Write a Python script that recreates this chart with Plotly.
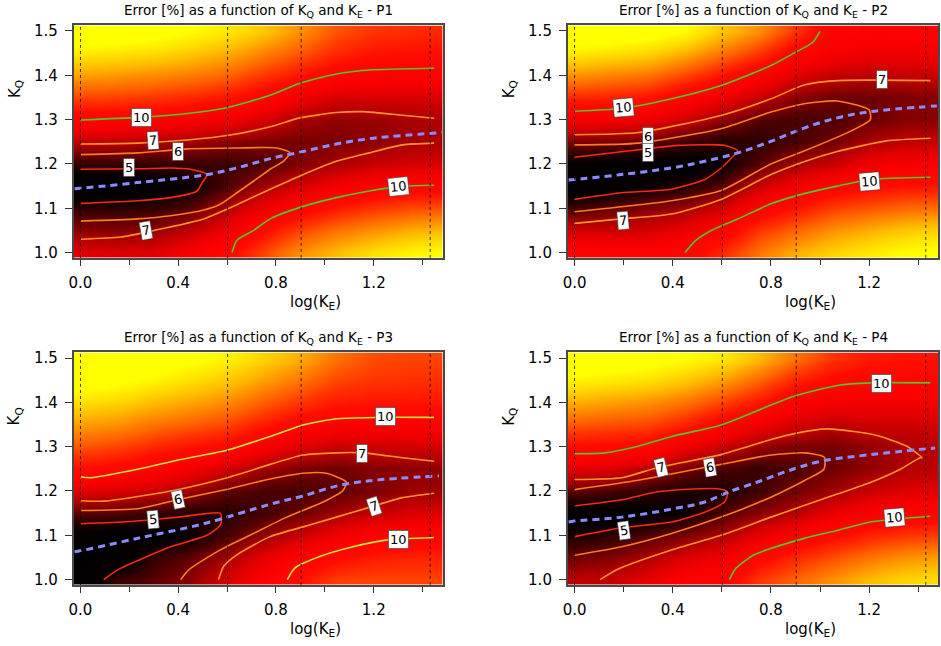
import numpy as np
import plotly.graph_objects as go
from plotly.subplots import make_subplots

# ============================================================================
# DATA
# ============================================================================

# calculation grid
LOG_KE = [0.0, 0.15, 0.30, 0.45, 0.60, 0.75, 0.90, 1.05, 1.20, 1.35, 1.50]
K_Q = [1.00, 1.05, 1.10, 1.15, 1.20, 1.25, 1.30, 1.35, 1.40, 1.45, 1.50]

# error [%] : one list per log(KE) column, KQ from 1.0 to 1.5
ERR_P1 = [
    [8.0, 6.5, 5.3, 3.5, 5.3, 7.3, 10.0, 13.0, 16.0, 19.0, 22.0],
    [7.9, 6.4, 5.2, 3.7, 5.3, 7.2, 9.9, 12.8, 15.7, 18.7, 21.5],
    [8.0, 6.6, 5.3, 4.0, 5.3, 7.0, 9.7, 12.5, 15.3, 18.3, 21.0],
    [9.0, 7.3, 5.8, 4.6, 5.4, 6.8, 9.2, 12.0, 14.8, 17.5, 20.0],
    [10.3, 8.5, 7.0, 5.7, 5.4, 6.5, 8.7, 11.3, 14.0, 16.5, 19.0],
    [13.0, 10.8, 8.6, 6.8, 5.7, 6.3, 7.8, 10.0, 12.5, 15.0, 17.5],
    [15.5, 13.0, 10.0, 7.8, 6.4, 6.2, 6.9, 8.6, 11.2, 13.5, 15.5],
    [17.0, 14.5, 11.5, 8.8, 6.9, 6.3, 6.6, 7.8, 10.0, 12.0, 13.5],
    [18.5, 15.5, 12.5, 9.5, 7.5, 6.5, 6.7, 7.8, 9.5, 11.2, 12.5],
    [19.5, 16.5, 13.2, 10.0, 7.8, 6.8, 6.9, 7.8, 9.4, 11.0, 12.2],
    [20.0, 17.0, 13.5, 10.0, 7.9, 7.0, 7.0, 7.9, 9.5, 11.0, 12.0],
]
ERR_P2 = [
    [9.8, 7.7, 5.6, 3.7, 4.4, 6.3, 9.0, 12.0, 15.5, 19.0, 22.0],
    [9.6, 7.6, 6.0, 4.0, 4.2, 6.2, 8.8, 11.8, 15.0, 18.5, 21.5],
    [9.5, 7.8, 6.4, 4.6, 4.0, 6.0, 8.4, 11.2, 14.5, 18.0, 21.0],
    [10.0, 8.4, 6.8, 5.0, 4.0, 5.5, 7.6, 9.8, 13.0, 16.5, 20.0],
    [12.0, 9.7, 7.7, 5.8, 4.6, 5.1, 6.6, 8.6, 11.2, 14.5, 17.5],
    [14.5, 12.5, 9.7, 7.5, 5.8, 5.2, 5.8, 7.4, 9.5, 12.5, 15.5],
    [16.5, 14.0, 11.3, 8.8, 6.9, 5.6, 5.6, 6.5, 8.0, 9.9, 12.5],
    [18.0, 15.5, 12.8, 9.9, 7.5, 6.1, 5.7, 6.1, 7.4, 8.9, 9.9],
    [19.0, 16.5, 13.5, 10.8, 8.6, 6.9, 6.05, 6.1, 7.2, 8.5, 9.5],
    [20.0, 17.5, 14.2, 11.2, 9.0, 7.3, 6.4, 6.3, 7.4, 8.6, 9.5],
    [20.5, 18.0, 14.5, 11.3, 9.1, 7.4, 6.5, 6.4, 7.5, 8.7, 9.6],
]
ERR_P3 = [
    [3.6, 3.2, 4.2, 5.8, 8.0, 11.0, 13.5, 16.0, 18.5, 21.0, 23.0],
    [5.4, 3.6, 4.0, 5.7, 7.8, 10.5, 13.0, 15.5, 18.0, 20.5, 22.5],
    [5.8, 5.3, 4.1, 5.4, 7.5, 9.6, 12.0, 14.5, 17.0, 19.5, 21.5],
    [6.5, 5.9, 4.6, 5.0, 6.7, 8.8, 11.2, 13.8, 16.2, 18.5, 20.5],
    [7.8, 6.8, 5.6, 5.1, 5.9, 7.8, 10.5, 13.0, 15.3, 17.5, 19.5],
    [9.3, 8.2, 6.6, 5.5, 5.6, 6.8, 9.0, 11.5, 13.8, 16.0, 18.0],
    [11.2, 9.5, 7.6, 6.1, 5.6, 6.3, 8.0, 10.2, 12.5, 14.5, 16.5],
    [12.8, 10.7, 8.6, 6.8, 5.9, 6.1, 7.5, 9.4, 11.5, 13.0, 14.5],
    [13.0, 11.5, 9.5, 7.4, 6.3, 6.4, 7.6, 9.3, 11.3, 12.5, 13.2],
    [13.0, 11.8, 9.8, 7.9, 6.7, 6.5, 7.7, 9.3, 11.3, 12.3, 13.0],
    [13.0, 11.8, 10.0, 8.0, 6.8, 6.6, 7.8, 9.4, 11.4, 12.3, 13.0],
]
ERR_P4 = [
    [7.3, 6.1, 4.9, 4.0, 5.9, 8.2, 10.8, 13.6, 16.5, 19.5, 22.0],
    [7.4, 6.4, 5.2, 4.0, 5.6, 8.0, 10.6, 13.3, 16.0, 19.0, 21.5],
    [8.3, 7.0, 5.7, 4.2, 5.2, 7.1, 10.3, 13.0, 15.5, 18.5, 21.0],
    [9.3, 7.9, 6.3, 4.6, 4.9, 6.2, 8.6, 11.8, 14.5, 17.5, 20.0],
    [9.8, 8.6, 7.0, 5.7, 4.9, 5.7, 7.6, 10.0, 13.0, 16.0, 19.0],
    [12.5, 10.4, 8.2, 6.5, 5.5, 5.4, 6.7, 8.6, 11.3, 14.0, 17.0],
    [14.0, 12.0, 9.4, 7.2, 6.2, 5.7, 6.3, 7.8, 9.3, 11.8, 14.5],
    [15.5, 13.3, 10.6, 8.3, 6.8, 6.1, 6.2, 7.3, 8.8, 10.6, 12.5],
    [17.0, 14.5, 11.8, 9.2, 7.5, 6.6, 6.6, 7.6, 8.7, 10.2, 11.5],
    [18.0, 15.5, 12.5, 9.7, 8.0, 7.0, 6.95, 7.6, 8.7, 10.1, 11.2],
    [18.5, 16.0, 12.8, 9.9, 8.2, 7.3, 7.2, 7.8, 8.8, 10.1, 11.2],
]

# iso-error lines : (level, log(KE), KQ)
LINES_P1 = [
    (10, [0, 0.233, 0.437, 0.6, 0.776, 0.898, 1.047, 1.182, 1.447],
         [1.299, 1.305, 1.314, 1.327, 1.355, 1.382, 1.403, 1.412, 1.416]),
    (7, [0, 0.233, 0.437, 0.6, 0.776, 0.898, 1.047, 1.155, 1.318, 1.447],
        [1.245, 1.247, 1.254, 1.264, 1.284, 1.304, 1.316, 1.318, 1.31, 1.303]),
    (6, [0, 0.233, 0.437, 0.64, 0.803, 0.857, 0.83, 0.776, 0.708, 0.64, 0.572, 0.504, 0.369, 0.233, 0],
        [1.221, 1.225, 1.234, 1.236, 1.236, 1.225, 1.206, 1.188, 1.161, 1.135, 1.109, 1.096, 1.083, 1.076, 1.071]),
    (5, [0, 0.233, 0.369, 0.45, 0.518, 0.498, 0.477, 0.369, 0.233, 0],
        [1.188, 1.189, 1.191, 1.188, 1.176, 1.158, 1.139, 1.124, 1.117, 1.111]),
    (7, [0, 0.165, 0.301, 0.504, 0.6, 0.776, 0.898, 1.047, 1.182, 1.318, 1.447],
        [1.03, 1.035, 1.05, 1.076, 1.098, 1.143, 1.173, 1.206, 1.225, 1.243, 1.247]),
    (10, [0.62, 0.64, 0.708, 0.776, 0.898, 1.047, 1.182, 1.318, 1.447],
         [1.0, 1.028, 1.05, 1.076, 1.102, 1.124, 1.139, 1.15, 1.152]),
]
LINES_P2 = [
    (10, [0, 0.19, 0.395, 0.597, 0.8, 0.9, 0.97, 1.0],
         [1.319, 1.325, 1.347, 1.377, 1.422, 1.452, 1.474, 1.499]),
    (7, [0, 0.26, 0.6, 0.8, 0.935, 1.07, 1.45],
        [1.266, 1.271, 1.31, 1.347, 1.378, 1.388, 1.388]),
    (6, [0, 0.26, 0.6, 0.8, 0.935, 1.07, 1.2, 1.205, 1.125, 0.935, 0.8, 0.597, 0.395, 0],
        [1.243, 1.247, 1.28, 1.317, 1.336, 1.342, 1.322, 1.3, 1.274, 1.229, 1.2, 1.14, 1.117, 1.092]),
    (5, [0, 0.26, 0.42, 0.61, 0.665, 0.64, 0.6, 0.53, 0.395, 0.19, 0],
        [1.215, 1.232, 1.242, 1.242, 1.23, 1.214, 1.192, 1.165, 1.143, 1.135, 1.12]),
    (7, [0, 0.19, 0.395, 0.597, 0.8, 0.935, 1.07, 1.27, 1.45],
        [1.066, 1.076, 1.087, 1.12, 1.176, 1.205, 1.228, 1.252, 1.258]),
    (10, [0.45, 0.495, 0.557, 0.665, 0.8, 0.935, 1.07, 1.205, 1.45],
         [1.0, 1.028, 1.05, 1.076, 1.11, 1.133, 1.15, 1.165, 1.17]),
]
LINES_P3 = [
    (10, [0, 0.043, 0.233, 0.41, 0.6, 0.776, 0.911, 1.047, 1.21, 1.447],
         [1.232, 1.23, 1.249, 1.271, 1.292, 1.323, 1.349, 1.363, 1.366, 1.366]),
    (7, [0, 0.098, 0.369, 0.6, 0.776, 0.911, 1.047, 1.155, 1.318, 1.447],
        [1.178, 1.177, 1.2, 1.23, 1.26, 1.281, 1.286, 1.286, 1.275, 1.267]),
    (6, [0, 0.233, 0.396, 0.6, 0.776, 0.911, 1.006, 1.088, 1.074, 0.993, 0.844, 0.708, 0.572, 0.443, 0.41],
        [1.156, 1.16, 1.18, 1.204, 1.227, 1.24, 1.24, 1.22, 1.201, 1.175, 1.141, 1.104, 1.067, 1.022, 1.0]),
    (5, [0, 0.2, 0.4, 0.572, 0.577, 0.572, 0.518, 0.369, 0.152, 0.095],
        [1.126, 1.131, 1.141, 1.15, 1.137, 1.123, 1.10, 1.074, 1.022, 1.0]),
    (7, [0.565, 0.586, 0.64, 0.776, 0.911, 1.047, 1.182, 1.318, 1.447],
        [1.0, 1.03, 1.056, 1.097, 1.119, 1.141, 1.163, 1.185, 1.195]),
    (10, [0.846, 0.877, 0.979, 1.115, 1.25, 1.447],
         [1.0, 1.026, 1.052, 1.074, 1.089, 1.095]),
]
LINES_P4 = [
    (10, [0, 0.124, 0.259, 0.395, 0.597, 0.8, 0.9, 1.07, 1.205, 1.449],
         [1.284, 1.286, 1.301, 1.323, 1.349, 1.394, 1.415, 1.438, 1.444, 1.444]),
    (7, [0, 0.192, 0.34, 0.597, 0.8, 0.9, 1.03, 1.138, 1.232, 1.354, 1.416, 1.408, 1.327, 1.205,
         1.07, 0.935, 0.8, 0.597, 0.395, 0.178, 0.104],
        [1.226, 1.23, 1.253, 1.282, 1.316, 1.33, 1.34, 1.334, 1.325, 1.301, 1.275, 1.275, 1.249, 1.219,
         1.193, 1.167, 1.141, 1.1, 1.067, 1.024, 1.0]),
    (6, [0, 0.259, 0.53, 0.597, 0.8, 0.935, 1.003, 1.019, 1.016, 0.935, 0.8, 0.597, 0.395, 0.192, 0],
        [1.203, 1.224, 1.253, 1.26, 1.281, 1.286, 1.28, 1.275, 1.249, 1.223, 1.186, 1.141, 1.104, 1.074, 1.055]),
    (5, [0, 0.192, 0.327, 0.462, 0.597, 0.624, 0.611, 0.53, 0.395, 0.192, 0],
        [1.166, 1.18, 1.197, 1.204, 1.204, 1.197, 1.175, 1.152, 1.13, 1.117, 1.097]),
    (10, [0.631, 0.658, 0.732, 0.935, 1.07, 1.205, 1.449],
         [1.0, 1.026, 1.056, 1.093, 1.111, 1.13, 1.143]),
]

# optimal KQ (minimum error) : dashed blue line
OPT_P1 = ([-0.024, 0, 0.233, 0.504, 0.64, 0.776, 0.911, 1.047, 1.182, 1.318, 1.481],
          [1.144, 1.145, 1.158, 1.175, 1.191, 1.212, 1.228, 1.245, 1.257, 1.264, 1.271])
OPT_P2 = ([-0.024, 0, 0.19, 0.395, 0.53, 0.665, 0.8, 0.935, 1.07, 1.205, 1.476],
          [1.164, 1.165, 1.176, 1.191, 1.206, 1.225, 1.251, 1.281, 1.304, 1.318, 1.331])
OPT_P3 = ([-0.024, 0, 0.233, 0.504, 0.776, 0.911, 1.047, 1.182, 1.467],
          [1.063, 1.065, 1.093, 1.126, 1.17, 1.189, 1.211, 1.223, 1.234])
OPT_P4 = ([-0.024, 0, 0.192, 0.395, 0.53, 0.624, 0.76, 0.868, 1.003, 1.205, 1.469],
          [1.13, 1.132, 1.141, 1.159, 1.175, 1.197, 1.223, 1.245, 1.267, 1.282, 1.297])

# line labels : (text, log(KE), KQ, angle)
LABELS_P1 = [("10", 0.25, 1.304, 0), ("7", 0.297, 1.252, -4), ("6", 0.399, 1.228, 0),
             ("5", 0.2, 1.191, 0), ("10", 1.302, 1.148, -6), ("7", 0.267, 1.05, -10)]
LABELS_P2 = [("10", 0.201, 1.327, -5), ("6", 0.3, 1.263, 0), ("5", 0.3, 1.225, 0),
             ("7", 1.253, 1.39, 0), ("7", 0.199, 1.073, -5), ("10", 1.201, 1.161, -5)]
LABELS_P3 = [("10", 1.25, 1.367, 0), ("7", 1.15, 1.285, 0), ("6", 0.399, 1.181, -12),
             ("5", 0.298, 1.136, -5), ("7", 1.199, 1.166, -18), ("10", 1.302, 1.091, 0)]
LABELS_P4 = [("10", 1.251, 1.4435, 0), ("7", 0.351, 1.253, -14), ("6", 0.55, 1.252, -10),
             ("5", 0.201, 1.111, -8), ("10", 1.303, 1.14, -5)]

# log10 of KE = 1, 4, 8, 27
VLINES = [0.0, 0.602, 0.903, 1.431]

# ============================================================================
# STYLE
# ============================================================================

FONT = "DejaVu Sans"
LEVEL_COLORS = {5: "#f42a14", 6: "#ff7a22", 7: "#ff9428", 10: "#56c42a"}

# colour map defined on error values, normalised on [ZMIN, ZMAX]
ZMIN, ZMAX = 3.0, 22.0
CMAP = [(3, "#000000"), (4.5, "#060000"), (5.0, "#200000"), (5.5, "#400000"),
        (6.0, "#660000"), (6.5, "#8c0000"), (7.0, "#b00000"), (8.0, "#e00000"),
        (9.0, "#fa0000"), (11.0, "#ff0c00"), (12.5, "#ff3400"), (14.0, "#ff6400"),
        (15.5, "#ff9000"), (17.0, "#ffbc00"), (18.5, "#ffe000"), (20.0, "#ffff00"),
        (22.0, "#ffff00")]
colorscale = [[(v - ZMIN) / (ZMAX - ZMIN), c] for v, c in CMAP]

panels = [
    ("P1", 1, 1, ERR_P1, LINES_P1, OPT_P1, LABELS_P1),
    ("P2", 1, 2, ERR_P2, LINES_P2, OPT_P2, LABELS_P2),
    ("P3", 2, 1, ERR_P3, LINES_P3, OPT_P3, LABELS_P3),
    ("P4", 2, 2, ERR_P4, LINES_P4, OPT_P4, LABELS_P4),
]

fig = make_subplots(rows=2, cols=2)

for name, row, col, err, lines, opt, labels in panels:
    fig.add_trace(go.Heatmap(
        x=LOG_KE, y=K_Q, z=np.array(err).T,
        colorscale=colorscale, zmin=ZMIN, zmax=ZMAX, zsmooth="best",
        showscale=False, hoverinfo="skip"
    ), row=row, col=col)

    for v in VLINES:
        fig.add_vline(x=v, line=dict(color="rgba(0,0,0,0.75)", width=1, dash="dot"),
                      row=row, col=col)

    for level, xs, ys in lines:
        color = LEVEL_COLORS[level]
        if name == "P3" and level == 10:
            color = "#d2e436"
        fig.add_trace(go.Scatter(
            x=xs, y=ys, mode="lines", line=dict(color=color, width=1.6, shape="spline", smoothing=0.6),
            hoverinfo="skip", showlegend=False
        ), row=row, col=col)

    fig.add_trace(go.Scatter(
        x=opt[0], y=opt[1], mode="lines",
        line=dict(color="#8a8cff", width=3, dash="7px,5px", shape="spline"),
        hoverinfo="skip", showlegend=False
    ), row=row, col=col)

    idx = (row - 1) * 2 + col
    xref = "x" if idx == 1 else f"x{idx}"
    yref = "y" if idx == 1 else f"y{idx}"
    for txt, lx, ly, ang in labels:
        fig.add_annotation(
            x=lx, y=ly, xref=xref, yref=yref, text=txt, showarrow=False,
            textangle=ang, bgcolor="white", bordercolor="rgba(60,60,60,0.6)",
            borderwidth=1, borderpad=1, font=dict(family=FONT, size=13, color="black")
        )

# ============================================================================
# LAYOUT
# ============================================================================

W, H = 941, 646
X_DOM = [[69 / W, 440 / W], [565.7 / W, 938.3 / W]]
Y_DOM = [[1 - 257.7 / H, 1 - 22.7 / H], [1 - 588.3 / H, 1 - 353.3 / H]]

axis_common = dict(
    showgrid=False, zeroline=False, showline=True, mirror=True,
    linecolor="#4a4a4a", linewidth=1.5, ticks="outside", tickcolor="#333",
    tickfont=dict(family=FONT, size=15, color="black"), tickformat=".1f"
)

for idx in range(1, 5):
    r = (idx - 1) // 2
    c = (idx - 1) % 2
    sfx = "" if idx == 1 else str(idx)
    fig.layout["xaxis" + sfx].update(
        domain=X_DOM[c], range=[-0.028, 1.482], tick0=0, dtick=0.4, ticklen=6,
        minor=dict(dtick=0.2, ticks="outside", ticklen=5, tickcolor="#333"),
        ticklabelstandoff=4, **axis_common
    )
    fig.layout["yaxis" + sfx].update(
        domain=Y_DOM[r], range=[0.988, 1.5125], tick0=1.0, dtick=0.1, ticklen=7,
        ticklabelstandoff=4, **axis_common
    )

    xc = (X_DOM[c][0] + X_DOM[c][1]) / 2
    title_y = 1 - (8 if r == 0 else 339) / H
    fig.add_annotation(
        x=xc, y=title_y, xref="paper", yref="paper", showarrow=False,
        text=f"Error [%] as a function of K<sub>Q</sub> and K<sub>E</sub> - P{idx}",
        font=dict(family=FONT, size=13.5, color="black"),
        xanchor="center", yanchor="middle"
    )
    fig.add_annotation(
        x=(312 if c == 0 else 810) / W, y=1 - (303 if r == 0 else 633) / H,
        xref="paper", yref="paper", showarrow=False, text="log(K<sub>E</sub>)",
        font=dict(family=FONT, size=15, color="black"), xanchor="center", yanchor="middle"
    )
    fig.add_annotation(
        x=(10 if c == 0 else 507) / W, y=1 - (87 if r == 0 else 418) / H,
        xref="paper", yref="paper", showarrow=False, text="K<sub>Q</sub>", textangle=-90,
        font=dict(family=FONT, size=15, color="black"), xanchor="center", yanchor="middle"
    )

fig.update_layout(
    width=W, height=H,
    margin=dict(l=0, r=0, t=0, b=0),
    paper_bgcolor="white", plot_bgcolor="white",
    showlegend=False
)

fig.write_html("out.html", config={"displayModeBar": False},
               post_script="document.body.style.margin='0';")
